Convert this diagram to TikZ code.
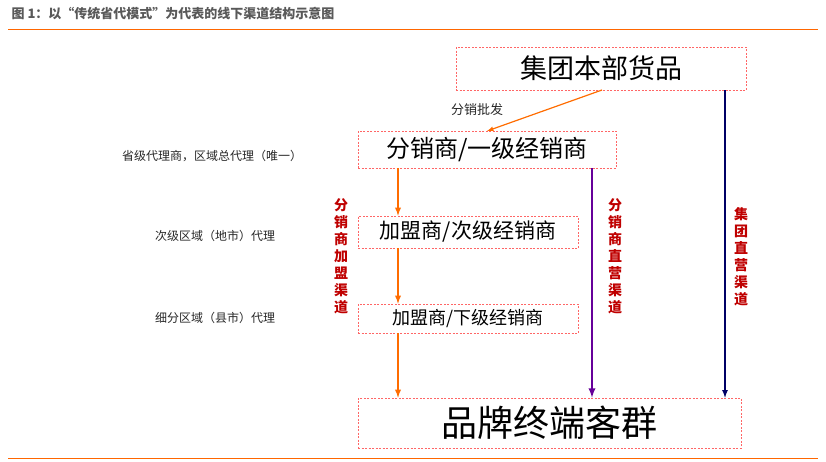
\documentclass[tikz,border=0pt]{standalone}
\usepackage{fontspec}
\newfontfamily\cjk{Noto Sans CJK SC}
\begin{document}
\begin{tikzpicture}[x=1pt,y=-1pt,font=\cjk,
  box/.style={draw=red!60!white,dash pattern=on 2pt off 1.5pt,line width=0.6pt,inner sep=0pt},
  oarr/.style={draw=orange!85!red,line width=1.8pt,-latex},
  vlab/.style={text=red!75!black,font=\cjk\bfseries\fontsize{14}{17}\selectfont,align=center},
  llab/.style={font=\cjk\fontsize{12}{14}\selectfont,text=black!85}]
\useasboundingbox (0,0) rectangle (826,461);
\node[anchor=west,font=\cjk\bfseries\fontsize{13}{15}\selectfont,text=black!65] (title) at (8,14) {图 1：以“传统省代模式”为代表的线下渠道结构示意图};
\draw[orange!80!red,line width=0.8pt] (8,29) -- (818,29);
\draw[orange!80!red,line width=0.8pt] (8,458) -- (818,458);
\node[box,minimum width=290pt,minimum height=43pt,font=\cjk\fontsize{27}{30}\selectfont] (top) at (601,68.5) {集团本部货品};
\node[box,minimum width=258pt,minimum height=37pt,font=\cjk\fontsize{24}{27}\selectfont] (fx) at (487,149.5) {分销商/一级经销商};
\node[box,minimum width=220pt,minimum height=32pt,font=\cjk\fontsize{21}{24}\selectfont] (jm1) at (468,232) {加盟商/次级经销商};
\node[box,minimum width=220pt,minimum height=29pt,font=\cjk\fontsize{18}{21}\selectfont] (jm2) at (468,318.5) {加盟商/下级经销商};
\node[box,minimum width=383pt,minimum height=50pt,font=\cjk\fontsize{36}{40}\selectfont] (brand) at (549.5,423) {品牌终端客群};
\coordinate (d1) at (602,90);
\coordinate (d2) at (487,131);
\draw[orange!85!red,line width=1.2pt,-latex] (d1) -- node[pos=0.8,above left=3pt,llab,font=\cjk\fontsize{13}{15}\selectfont]{分销批发} (d2);
\draw[oarr] (fx.south -| 398,0) -- (jm1.north -| 398,0);
\draw[oarr] (jm1.south -| 398,0) -- (jm2.north -| 398,0);
\draw[oarr] (jm2.south -| 398,0) -- (brand.north -| 398,0);
\draw[draw=violet!80!blue,line width=2.2pt,-latex] (fx.south -| 592,0) -- (brand.north -| 592,0);
\draw[draw=blue!40!black,line width=1.6pt,-latex] (top.south -| 725,0) -- (brand.north -| 725,0);
\node[vlab] (v1) at (341,256) {分\\销\\商\\加\\盟\\渠\\道};
\node[vlab] (v2) at (615,256) {分\\销\\商\\直\\营\\渠\\道};
\node[vlab] (v3) at (741,257) {集\\团\\直\\营\\渠\\道};
\node[llab] (l1) at (212,156) {省级代理商，区域总代理（唯一）};
\node[llab] (l2) at (215,236) {次级区域（地市）代理};
\node[llab] (l3) at (215,318) {细分区域（县市）代理};
\end{tikzpicture}
\end{document}
